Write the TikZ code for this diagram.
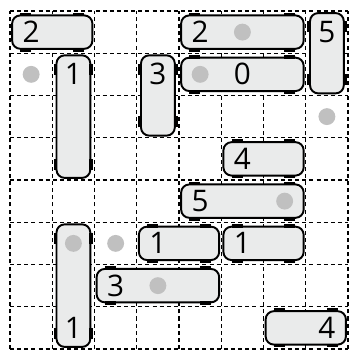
\documentclass[tikz,border=0pt]{standalone}
\usepackage{fontspec}
\setmainfont{Open Sans}
\usetikzlibrary{calc}
\definecolor{carfill}{RGB}{234,235,235}
\definecolor{dotgray}{RGB}{192,192,192}
\tikzset{
  gridline/.style={dash pattern=on 2.7pt off 2.1pt, line width=0.75pt},
  carbody/.style={draw, line width=1.3pt, fill=carfill, rounded corners=5.5pt, inner sep=0pt},
  wheel/.style={line width=2.6pt},
  dotmark/.style={circle, fill=dotgray, minimum size=0.4cm, inner sep=0pt},
  numlabel/.style={font=\fontsize{20}{20}\selectfont, inner sep=0pt},
}
\begin{document}
\begin{tikzpicture}
\useasboundingbox (-0.237,-0.26) rectangle (8.057,8.26);
% grid
\foreach \i in {0,...,8} {
  \draw[gridline] (\i,0) -- (\i,8);
  \draw[gridline] (0,\i) -- (8,\i);
}
% horizontal cars: name / left col / row / length
\foreach \n/\c/\r/\l in {hA/0/0/2, hB/4/0/3, hC/4/1/3, hD/5/3/2, hE/4/4/3, hF/3/5/2, hG/5/5/2, hH/2/6/3, hI/6/7/2} {
  \node[carbody, minimum width=\l cm-0.1cm, minimum height=0.79cm] (\n) at ({\c+\l/2},{7.5-\r}) {};
  \draw[wheel] ($(\n.north west)+(0.22,0)$) -- ++(0.26,0);
  \draw[wheel] ($(\n.north east)+(-0.22,0)$) -- ++(-0.26,0);
  \draw[wheel] ($(\n.south west)+(0.22,0)$) -- ++(0.26,0);
  \draw[wheel] ($(\n.south east)+(-0.22,0)$) -- ++(-0.26,0);
}
% vertical cars: name / col / top row / length
\foreach \n/\c/\r/\l in {vA/7/0/2, vB/1/1/3, vC/3/1/2, vD/1/5/3} {
  \node[carbody, minimum height=\l cm-0.1cm, minimum width=0.8cm] (\n) at ({\c+0.5},{8-\r-\l/2}) {};
  \draw[wheel] ($(\n.north west)+(0,-0.22)$) -- ++(0,-0.26);
  \draw[wheel] ($(\n.south west)+(0,0.22)$) -- ++(0,0.26);
  \draw[wheel] ($(\n.north east)+(0,-0.22)$) -- ++(0,-0.26);
  \draw[wheel] ($(\n.south east)+(0,0.22)$) -- ++(0,0.26);
}
% dots: col / row
\foreach \c/\r [count=\k] in {5/0, 4/1, 0/1, 7/2, 6/4, 1/5, 2/5, 3/6} {
  \node[dotmark] (dot\k) at ({\c+0.5},{7.5-\r}) {};
}
% numbers: col / row / text
\foreach \c/\r/\t [count=\k] in {0/0/2, 4/0/2, 5/1/0, 7/0/5, 1/1/1, 3/1/3, 5/3/4, 4/4/5, 3/5/1, 5/5/1, 1/7/1, 2/6/3, 7/7/4} {
  \node[numlabel] (num\k) at ({\c+0.5},{7.5-\r}) {\t};
}
\end{tikzpicture}
\end{document}
